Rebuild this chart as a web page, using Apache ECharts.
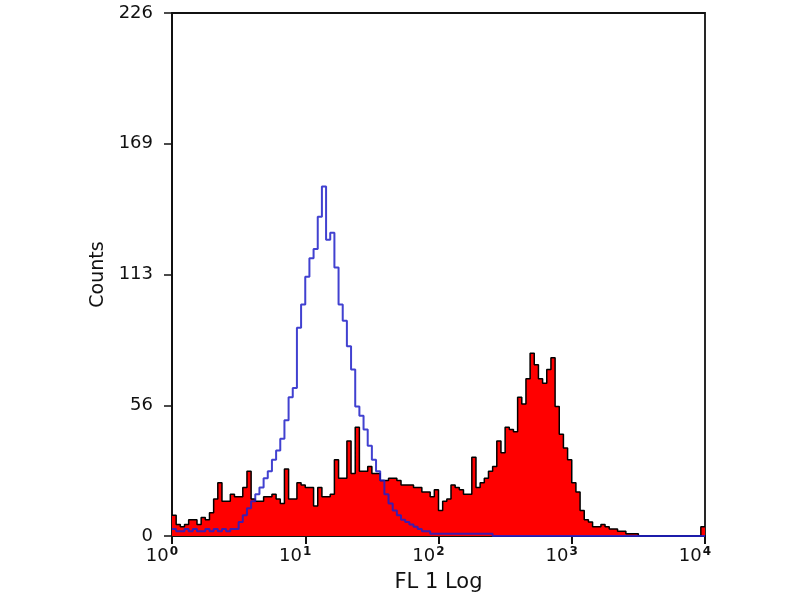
<!DOCTYPE html>
<html>
<head>
<meta charset="utf-8">
<script src="https://cdn.jsdelivr.net/npm/echarts@6/dist/echarts.min.js"></script>
<style>html,body{margin:0;padding:0;background:#fff}#c{width:800px;height:600px}</style>
</head>
<body>
<div id="c"></div>
<script>
// Histogram bins: 32 bins per decade, from 10^0 to 10^4 (x stored as log10)
const binsPerDecade = 32;
const stainedCounts = [
  9,5,4,5,7,7,5,8,7,10,16,23,15,15,18,17,
  17,21,28,16,15,15,17,17,18,16,14,29,16,16,23,22,
  21,21,13,21,17,17,18,33,25,25,41,27,47,28,28,30,
  27,27,24,24,25,25,24,22,22,22,21,21,19,19,17,20,
  11,15,16,22,21,20,18,18,34,21,23,25,28,30,41,36,
  47,46,45,60,57,68,79,74,68,66,72,77,56,44,38,33,
  23,19,11,7,6,4,4,5,4,3,3,2,2,1,1,1,
  0,0,0,0,0,0,0,0,0,0,0,0,0,0,0,4
];
const controlCounts = [
  3,2,2,3,2,3,2,2,3,2,3,2,3,2,3,3,
  6,9,12,15,18,21,25,28,33,37,42,50,60,64,90,100,
  112,120,124,138,151,128,131,116,100,93,82,72,56,52,46,39,
  33,28,24,18,14,11,9,7,6,5,4,3,2,2,1,1,
  1,1,1,1,1,1,1,1,1,1,1,1,1,0,0,0,
  0,0,0,0,0,0,0,0,0,0,0,0,0,0,0,0,
  0,0,0,0,0,0,0,0,0,0,0,0,0,0,0,0,
  0,0,0,0,0,0,0,0,0,0,0,0,0,0,0,0
];
const xTickExponents = ['0','1','2','3','4'];
const yTickLabels = ['0','56','113','169','226'];
const yMax = 226;
const xAxisTitle = 'FL 1 Log';
const yAxisTitle = 'Counts';

function toSteps(arr){
  const d = arr.map((v,i)=>[i/binsPerDecade, v]);
  d.push([arr.length/binsPerDecade, arr[arr.length-1]]);
  return d;
}

const chart = echarts.init(document.getElementById('c'), null, {renderer:'canvas'});
const font = '"DejaVu Sans", sans-serif';
chart.setOption({
  animation:false,
  backgroundColor:'#fff',
  grid:{left:172,right:95,top:13,bottom:64,show:true,borderColor:'#111',borderWidth:1.8,backgroundColor:'transparent'},
  xAxis:{
    type:'value',min:0,max:4,interval:1,
    name:xAxisTitle,nameLocation:'middle',nameGap:36,
    nameTextStyle:{color:'#111',fontSize:21,fontFamily:font},
    axisLine:{lineStyle:{color:'#111',width:2}},
    axisTick:{show:true,inside:false,length:8,lineStyle:{color:'#111',width:2}},
    splitLine:{show:false},
    axisLabel:{margin:10,color:'#111',padding:[0,20,0,0],
      formatter:v=>'{b|10}{s|'+xTickExponents[Math.round(v)]+'}',
      rich:{b:{fontSize:18,fontFamily:font,color:'#111'},s:{fontSize:12,fontFamily:font,fontWeight:'bold',color:'#111',verticalAlign:'top',padding:[0,0,8,1]}}}
  },
  yAxis:{
    type:'value',min:0,max:yMax,interval:yMax/4,
    name:yAxisTitle,nameLocation:'middle',nameGap:64,nameRotate:90,
    nameTextStyle:{color:'#111',fontSize:19,fontFamily:font},
    axisLine:{show:true,lineStyle:{color:'#111',width:2}},
    axisTick:{show:true,inside:false,length:8,lineStyle:{color:'#111',width:1.5}},
    splitLine:{show:false},
    axisLabel:{margin:19,color:'#111',fontSize:18,fontFamily:font,
      formatter:v=>yTickLabels[Math.round(v/(yMax/4))]}
  },
  series:[
    {type:'line',step:'end',symbol:'none',data:toSteps(stainedCounts),
     lineStyle:{color:'#000',width:1.5},areaStyle:{color:'#ff0000',opacity:1},z:2},
    {type:'line',step:'end',symbol:'none',data:toSteps(controlCounts),
     lineStyle:{color:'#2020c8',width:2,opacity:0.85},z:3}
  ]
});
</script>
</body>
</html>
